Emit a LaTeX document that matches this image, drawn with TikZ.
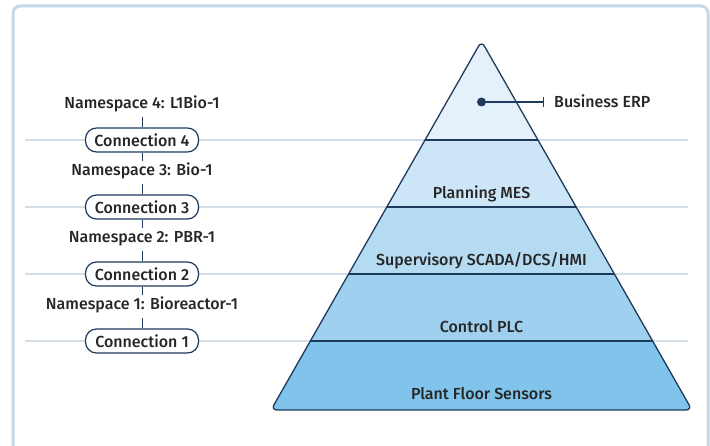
\documentclass[tikz,border=0pt]{standalone}
\usepackage{fontspec}
\setmainfont{Fira Sans}[UprightFont={* Medium}]
\usepackage{xcolor}
\usetikzlibrary{arrows.meta, positioning, calc}

\definecolor{navy}{HTML}{1E3A5C}
\definecolor{ink}{HTML}{262626}
\definecolor{frameblue}{HTML}{C4D8E9}
\definecolor{guide}{HTML}{D3DEE7}
\definecolor{bandA}{HTML}{E4F1FB}
\definecolor{bandB}{HTML}{CCE5F7}
\definecolor{bandC}{HTML}{B5DBF3}
\definecolor{bandD}{HTML}{9FD0F0}
\definecolor{bandE}{HTML}{80C3EB}

\tikzset{
  txt/.style={font=\fontsize{16}{18}\selectfont, text=ink},
  level/.style={txt, anchor=base},
  connbox/.style={txt, draw=navy, line width=1.2pt, fill=white,
    rounded corners=11pt, minimum width=113pt, minimum height=24pt, inner sep=0pt},
  nslabel/.style={txt, anchor=base, text height=11pt, text depth=4pt, inner xsep=2pt, inner ysep=4pt},
  tick/.style={navy, line width=1pt},
  guideline/.style={guide, line width=1.2pt}
}

\begin{document}
\begin{tikzpicture}[x=1pt, y=-1pt]
\useasboundingbox (0,0) rectangle (710,446);
% outer frame
\draw[frameblue, line width=3pt, rounded corners=7pt] (13,6) rectangle (708,470);

% level guides
\foreach \y in {140,207,274,341}
  \draw[guideline] (25,\y) -- (688,\y);

% pyramid
\coordinate (apex) at (481.5,41);
\coordinate (bl) at (271,410);
\coordinate (br) at (692,410);
\begin{scope}
  \clip[rounded corners=6pt] (apex) -- (br) -- (bl) -- cycle;
  \fill[bandA] (260,30) rectangle (700,140);
  \fill[bandB] (260,140) rectangle (700,207);
  \fill[bandC] (260,207) rectangle (700,274);
  \fill[bandD] (260,274) rectangle (700,341);
  \fill[bandE] (260,341) rectangle (700,420);
  \foreach \y in {140,207,274,341}
    \draw[navy, line width=1.3pt] (260,\y) -- (700,\y);
\end{scope}
\draw[navy, line width=1.3pt, rounded corners=6pt] (apex) -- (br) -- (bl) -- cycle;

% level names
\node[level] (mes) at (481.5,199) {Planning MES};
\node[level] (scada) at (481.5,265.5) {Supervisory SCADA/DCS/HMI};
\node[level] (plc) at (481.5,332.5) {Control PLC};
\node[level] (sensors) at (481.5,400) {Plant Floor Sensors};

% top level callout
\node[circle, fill=navy, inner sep=0pt, minimum size=9pt] (erpdot) at (481.5,102) {};
\coordinate (erpend) at (544,102);
\draw[navy, line width=1.3pt, -{Bar[width=10pt, line width=1.3pt]}] (erpdot.center) -- (erpend);
\node[txt, anchor=base west, inner sep=0pt] (erp) at (554,107.5) {Business ERP};

% namespaces and connections
\foreach \n/\ns/\y in {4/L1Bio-1/140, 3/Bio-1/207, 2/PBR-1/274, 1/Bioreactor-1/341} {
  \node[connbox] (c\n) at (142,\y) {Connection \n};
  \node[nslabel] (ns\n) at (142,\y-31) {Namespace \n: \ns};
  \draw[tick] (ns\n) -- (c\n);
}
\draw[tick] (c4) -- (ns3);
\draw[tick] (c3) -- (ns2);
\draw[tick] (c2) -- (ns1);
\end{tikzpicture}
\end{document}
